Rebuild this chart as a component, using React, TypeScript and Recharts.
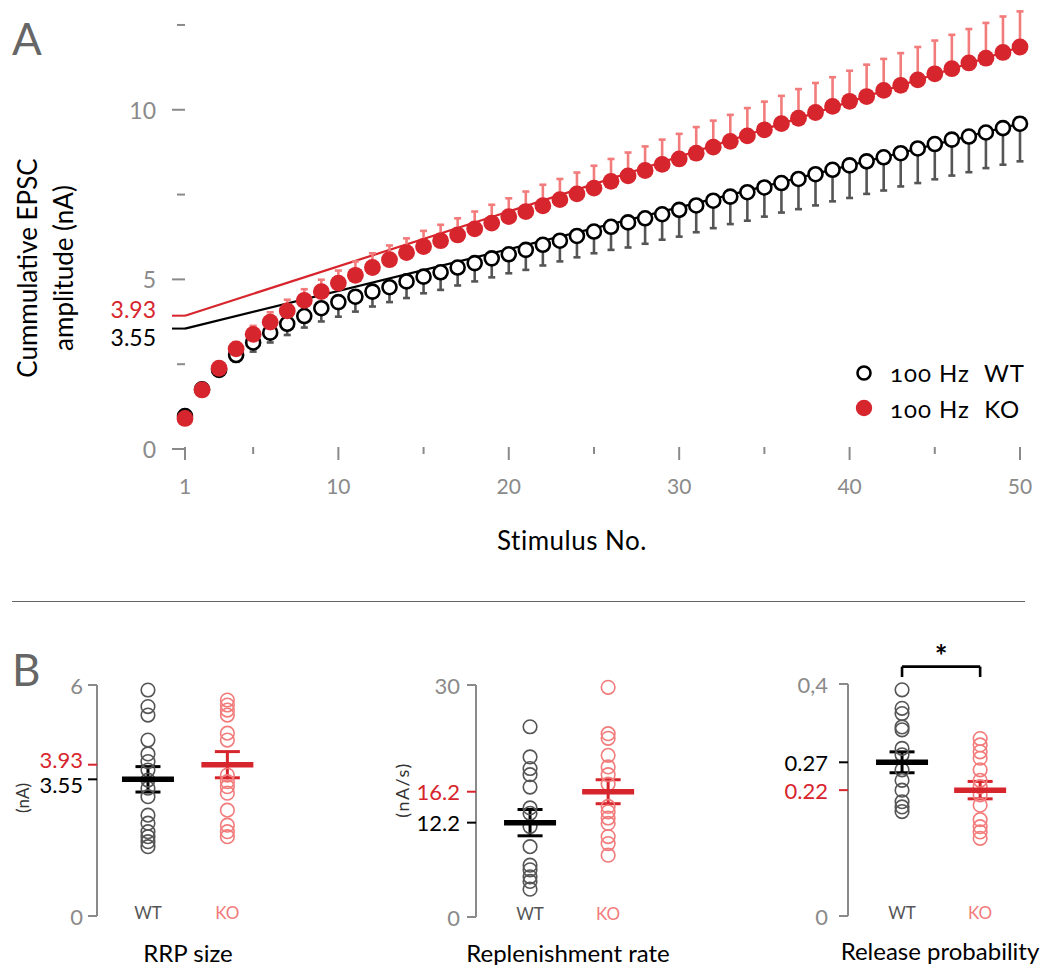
import React from 'react';
import { ComposedChart, Scatter, Line, XAxis, YAxis, ErrorBar, ReferenceLine, Legend } from 'recharts';

const FONT = 'Lato, "Open Sans", sans-serif';
const RED = '#d7252d';
const PINK = '#f27b7b';
const DGRAY = '#555555';
const AXIS_GRAY = '#8a8a8a';

// ---------- Panel A data ----------
const stimulus = [1, 2, 3, 4, 5, 6, 7, 8, 9, 10, 11, 12, 13, 14, 15, 16, 17, 18, 19, 20, 21, 22, 23, 24, 25,
  26, 27, 28, 29, 30, 31, 32, 33, 34, 35, 36, 37, 38, 39, 40, 41, 42, 43, 44, 45, 46, 47, 48, 49, 50];
const wtMean = [0.97, 1.76, 2.33, 2.77, 3.14, 3.43, 3.69, 3.92, 4.15, 4.33, 4.49, 4.64, 4.77, 4.94, 5.08, 5.21, 5.35,
  5.48, 5.62, 5.74, 5.87, 6.02, 6.14, 6.28, 6.41, 6.55, 6.68, 6.80, 6.92, 7.05, 7.18, 7.32, 7.44, 7.57, 7.71, 7.84,
  7.96, 8.10, 8.23, 8.36, 8.48, 8.60, 8.72, 8.86, 8.99, 9.12, 9.21, 9.33, 9.46, 9.59];
const wtSem = [0.05, 0.1, 0.15, 0.2, 0.27, 0.29, 0.33, 0.34, 0.39, 0.43, 0.44, 0.44, 0.44, 0.49, 0.49, 0.52, 0.53,
  0.54, 0.56, 0.56, 0.59, 0.61, 0.61, 0.63, 0.64, 0.68, 0.74, 0.75, 0.75, 0.79, 0.79, 0.81, 0.81, 0.84, 0.86, 0.87,
  0.89, 0.92, 0.93, 0.96, 0.96, 0.98, 0.98, 1.02, 1.04, 1.06, 1.05, 1.05, 1.08, 1.11];
const koMean = [0.90, 1.74, 2.38, 2.95, 3.38, 3.74, 4.07, 4.38, 4.64, 4.89, 5.12, 5.35, 5.58, 5.79, 5.97, 6.14, 6.31,
  6.49, 6.66, 6.85, 7.00, 7.17, 7.35, 7.52, 7.69, 7.89, 8.05, 8.21, 8.39, 8.55, 8.72, 8.90, 9.07, 9.23, 9.41, 9.59,
  9.75, 9.92, 10.10, 10.25, 10.39, 10.57, 10.72, 10.88, 11.06, 11.21, 11.38, 11.52, 11.69, 11.85];
const koSem = [0.05, 0.1, 0.15, 0.2, 0.25, 0.29, 0.33, 0.33, 0.35, 0.37, 0.41, 0.42, 0.42, 0.42, 0.46, 0.47, 0.49,
  0.51, 0.54, 0.54, 0.59, 0.62, 0.61, 0.63, 0.66, 0.66, 0.69, 0.71, 0.73, 0.74, 0.77, 0.78, 0.78, 0.82, 0.83, 0.82,
  0.86, 0.87, 0.86, 0.90, 0.94, 0.93, 0.95, 0.97, 0.98, 1.00, 1.00, 1.04, 1.06, 1.05];
const fitStimulus = [1, 50];
const wtFit = [3.55, 9.59];
const koFit = [3.93, 11.85];
const xTicksA = [1, 5, 10, 15, 20, 25, 30, 35, 40, 45, 50];
const xMajorA = [1, 10, 20, 30, 40, 50];
const yTicksA = [0, 2.5, 3.55, 3.93, 5, 7.5, 10, 12.5];
const yLabelsA: Record<string, string> = { '0': '0', '3.55': '3.55', '3.93': '3.93', '5': '5', '10': '10' };
const seriesNames = ['100 Hz  WT', '100 Hz  KO'];

// ---------- Panel B data ----------
const groups = ['WT', 'KO'];
const rrpWT = [5.87, 5.44, 5.22, 4.57, 4.21, 4.01, 3.79, 3.53, 3.32, 3.10, 2.62, 2.41, 2.19, 2.06, 1.93, 1.80];
const rrpKO = [5.61, 5.48, 5.35, 5.22, 4.75, 4.57, 3.66, 3.49, 3.36, 3.19, 2.75, 2.36, 2.19, 2.06];
const rrpMean = [3.55, 3.93];
const rrpSem = [0.33, 0.34];
const rrpMeanLabels = ['3.55', '3.93'];

const repWT = [24.6, 20.7, 19.2, 18.4, 16.8, 14.1, 13.4, 11.7, 9.1, 6.7, 6.1, 5.2, 4.6, 3.6];
const repKO = [29.7, 23.7, 23.1, 20.9, 19.4, 18.4, 17.2, 14.3, 13.6, 12.8, 12.1, 10.4, 9.5, 8.0];
const repMean = [12.2, 16.2];
const repSem = [1.7, 1.55];
const repMeanLabels = ['12.2', '16.2'];

const prWT = [0.390, 0.358, 0.349, 0.326, 0.321, 0.289, 0.278, 0.252, 0.234, 0.217, 0.197, 0.188, 0.180];
const prKO = [0.306, 0.295, 0.283, 0.272, 0.252, 0.234, 0.223, 0.209, 0.191, 0.166, 0.154, 0.145, 0.134];
const prMean = [0.265, 0.217];
const prSem = [0.018, 0.015];
const prMeanLabels = ['0.27', '0.22'];

// ---------- Panel A components ----------
const dataA = stimulus.map((s, i) => ({
  s,
  wt: wtMean[i],
  wtErr: [wtSem[i], 0],
  ko: koMean[i],
  koErr: [0, koSem[i]],
}));
const wtFitData = fitStimulus.map((s, i) => ({ s, fit: wtFit[i] }));
const koFitData = fitStimulus.map((s, i) => ({ s, fit: koFit[i] }));

const YTickA = (props: any) => {
  const { x, y, payload } = props;
  const v = payload.value;
  const label = yLabelsA[String(v)];
  const color = v === 3.93 ? RED : v === 3.55 ? '#000' : AXIS_GRAY;
  const len = label ? 13 : 8;
  const dy = v === 3.93 ? -7 : v === 3.55 ? 8 : 0;
  return (
    <g>
      <line x1={x - len} x2={x} y1={y} y2={y} stroke={color} strokeWidth={2} />
      {label && (
        <text x={x - 29} y={y + dy} textAnchor="end" dominantBaseline="central" fill={color}
          fontSize={23} fontFamily={FONT}>{label}</text>
      )}
    </g>
  );
};

const XTickA = (props: any) => {
  const { x, y, payload } = props;
  const v = payload.value;
  const major = xMajorA.includes(v);
  return (
    <g>
      <line x1={x} x2={x} y1={y - 2} y2={y + (major ? 11 : 5)} stroke={AXIS_GRAY} strokeWidth={2} />
      {major && (
        <text x={x} y={y + 36} textAnchor="middle" dominantBaseline="central" fill={AXIS_GRAY}
          fontSize={21} fontFamily={FONT}>{v}</text>
      )}
    </g>
  );
};

const WTDot = (props: any) => {
  const { cx, cy } = props;
  if (cx == null || cy == null) return null;
  return <circle cx={cx} cy={cy} r={7} fill="#fff" stroke="#000" strokeWidth={2.6} />;
};
const KODot = (props: any) => {
  const { cx, cy } = props;
  if (cx == null || cy == null) return null;
  return <circle cx={cx} cy={cy} r={8.4} fill={RED} />;
};

const LegendA = (props: any) => {
  const payload = (props.payload || [])
    .filter((e: any) => seriesNames.includes(e.value))
    .sort((a: any, b: any) => seriesNames.indexOf(a.value) - seriesNames.indexOf(b.value));
  return (
    <div style={{ fontFamily: FONT }}>
      {payload.map((entry: any, i: number) => (
        <div key={i} style={{ display: 'flex', alignItems: 'center', height: 35.5 }}>
          <svg width={24} height={20} style={{ marginRight: 14 }}>
            {entry.value === seriesNames[0]
              ? <circle cx={12} cy={10} r={6.5} fill="#fff" stroke="#000" strokeWidth={2.6} />
              : <circle cx={12} cy={10} r={8.2} fill={RED} />}
          </svg>
          <span style={{ fontSize: 24, color: '#000', whiteSpace: 'pre', letterSpacing: 1,
            fontVariantNumeric: 'oldstyle-nums', fontFeatureSettings: '"onum" 1' }}>{entry.value}</span>
        </div>
      ))}
    </div>
  );
};

function PanelA() {
  return (
    <ComposedChart width={1042} height={600} data={dataA} margin={{ top: 8, right: 22, bottom: 91, left: 0 }}
      style={{ fontFamily: FONT }}>
      <XAxis dataKey="s" type="number" domain={[1, 50]} ticks={xTicksA} interval={0} axisLine={false}
        tickLine={false} tickSize={0} tickMargin={0} height={60} tick={<XTickA />} />
      <YAxis type="number" domain={[0, 13]} ticks={yTicksA} interval={0} axisLine={false} tickLine={false}
        tickSize={0} tickMargin={0} width={185} tick={<YTickA />} />
      <Line data={wtFitData} dataKey="fit" stroke="#000" strokeWidth={2.2} dot={false} isAnimationActive={false}
        legendType="none" />
      <Line data={koFitData} dataKey="fit" stroke={RED} strokeWidth={2.2} dot={false} isAnimationActive={false}
        legendType="none" />
      <Scatter name={seriesNames[0]} dataKey="wt" fill="#fff" stroke="#000" shape={<WTDot />} isAnimationActive={false}>
        <ErrorBar dataKey="wtErr" direction="y" width={3.5} stroke={DGRAY} strokeWidth={2.6} />
      </Scatter>
      <Scatter name={seriesNames[1]} dataKey="ko" fill={RED} shape={<KODot />} isAnimationActive={false}>
        <ErrorBar dataKey="koErr" direction="y" width={3.5} stroke={PINK} strokeWidth={2.6} />
      </Scatter>
      <Legend content={<LegendA />} layout="vertical" align="center" verticalAlign="middle"
        wrapperStyle={{ position: 'absolute', left: 852, top: 355, width: 190 }} />
    </ComposedChart>
  );
}

// ---------- Panel B components ----------
const PointDot = (color: string) => (props: any) => {
  const { cx, cy } = props;
  if (cx == null || cy == null) return null;
  return <circle cx={cx} cy={cy} r={6.8} fill="none" stroke={color} strokeWidth={1.6} />;
};
const MeanBar = (color: string) => (props: any) => {
  const { cx, cy } = props;
  if (cx == null || cy == null) return null;
  return <line x1={cx - 26} x2={cx + 26} y1={cy} y2={cy} stroke={color} strokeWidth={5.5} />;
};

const CatTick = (props: any) => {
  const { x, y, payload } = props;
  const idx = payload.value - 1;
  return (
    <text x={x} y={y - 4} textAnchor="middle" dominantBaseline="central" fontSize={17} fontFamily={FONT}
      fill={idx === 0 ? DGRAY : PINK}>{groups[idx]}</text>
  );
};

type StripProps = {
  left: number; plotTop: number; plotBottom: number; yAxisWidth: number; plotWidth: number; xMin: number;
  yMax: number; yMaxLabel: string; wt: number[]; ko: number[]; mean: number[]; sem: number[];
  meanLabels: string[]; gap: number; capHalf: number; labelShift: number; bracket?: boolean;
};

const TOP_MARGIN_B = 70;
const X_AXIS_H = 20;
const BOTTOM_MARGIN_B = 4;

function StripChart(p: StripProps) {
  const ptsWT = p.wt.map((v) => ({ x: 1, y: v }));
  const ptsKO = p.ko.map((v) => ({ x: 2, y: v }));
  const meanWT = [{ x: 1, y: p.mean[0], e: p.sem[0] }];
  const meanKO = [{ x: 2, y: p.mean[1], e: p.sem[1] }];
  const yTicks = [0, p.mean[0], p.mean[1], p.yMax];
  const YTick = (props: any) => {
    const { x, y, payload } = props;
    const v = payload.value;
    let label = '0';
    let color = AXIS_GRAY;
    let dy = 0;
    if (v === p.yMax) label = p.yMaxLabel;
    else if (v === p.mean[0]) { label = p.meanLabels[0]; color = '#000'; dy = p.labelShift; }
    else if (v === p.mean[1]) { label = p.meanLabels[1]; color = RED; dy = -p.labelShift; }
    return (
      <g>
        <line x1={x - 9} x2={x} y1={y} y2={y} stroke={color} strokeWidth={2} />
        <text x={x - 9 - p.gap} y={y + dy} textAnchor="end" dominantBaseline="central" fill={color}
          fontSize={22} fontFamily={FONT}>{label}</text>
      </g>
    );
  };
  const height = TOP_MARGIN_B + (p.plotBottom - p.plotTop) + X_AXIS_H + BOTTOM_MARGIN_B;
  return (
    <div style={{ position: 'absolute', left: p.left, top: p.plotTop - TOP_MARGIN_B }}>
      <ComposedChart width={p.yAxisWidth + p.plotWidth} height={height}
        margin={{ top: TOP_MARGIN_B, right: 0, bottom: BOTTOM_MARGIN_B, left: 0 }}>
        <XAxis dataKey="x" type="number" domain={[p.xMin, 2.6]} ticks={[1, 2]} interval={0} axisLine={false}
          tickLine={false} tickSize={0} tickMargin={0} height={X_AXIS_H} tick={<CatTick />} />
        <YAxis type="number" domain={[0, p.yMax]} ticks={yTicks} interval={0}
          axisLine={{ stroke: AXIS_GRAY, strokeWidth: 2 }} tickLine={false} tickSize={0} tickMargin={0}
          width={p.yAxisWidth} tick={<YTick />} />
        <Scatter data={ptsWT} dataKey="y" shape={PointDot(DGRAY)} isAnimationActive={false} />
        <Scatter data={ptsKO} dataKey="y" shape={PointDot(PINK)} isAnimationActive={false} />
        <Scatter data={meanWT} dataKey="y" shape={MeanBar('#000')} isAnimationActive={false}>
          <ErrorBar dataKey="e" direction="y" width={p.capHalf} stroke="#000" strokeWidth={3} />
        </Scatter>
        <Scatter data={meanKO} dataKey="y" shape={MeanBar(RED)} isAnimationActive={false}>
          <ErrorBar dataKey="e" direction="y" width={p.capHalf} stroke={RED} strokeWidth={3} />
        </Scatter>
        {p.bracket && (
          <ReferenceLine segment={[{ x: 1, y: 0.412 }, { x: 1, y: 0.43 }]} stroke="#000" strokeWidth={2.6}
            ifOverflow="visible" />
        )}
        {p.bracket && (
          <ReferenceLine segment={[{ x: 1, y: 0.43 }, { x: 2, y: 0.43 }]} stroke="#000" strokeWidth={2.6}
            ifOverflow="visible"
            label={{ value: '*', position: 'top', fill: '#000', fontSize: 30, fontWeight: 700, offset: 0 }} />
        )}
        {p.bracket && (
          <ReferenceLine segment={[{ x: 2, y: 0.43 }, { x: 2, y: 0.412 }]} stroke="#000" strokeWidth={2.6}
            ifOverflow="visible" />
        )}
      </ComposedChart>
    </div>
  );
}

const abs = (extra: React.CSSProperties): React.CSSProperties => ({
  position: 'absolute', fontFamily: FONT, whiteSpace: 'nowrap', ...extra,
});

export default function App() {
  return (
    <div style={{ position: 'absolute', left: 0, top: 0, width: 1042, height: 965, background: '#fff',
      fontFamily: FONT, overflow: 'hidden' }}>
      <div style={{ position: 'absolute', left: 0, top: 0 }}>
        <PanelA />
      </div>
      <div style={abs({ left: 12, top: 16, fontSize: 44, color: '#666', lineHeight: '44px' })}>A</div>
      <div style={abs({ left: 27, top: 268, fontSize: 26, color: '#000', transform: 'translate(-50%, -50%) rotate(-90deg)', lineHeight: '30px' })}>Cummulative EPSC</div>
      <div style={abs({ left: 63, top: 268, fontSize: 26, color: '#000', transform: 'translate(-50%, -50%) rotate(-90deg)', lineHeight: '30px' })}>amplitude (nA)</div>
      <div style={abs({ left: 572, top: 540, fontSize: 26, color: '#000', transform: 'translate(-50%, -50%)', lineHeight: '30px', letterSpacing: 0.5 })}>Stimulus No.</div>

      <div style={{ position: 'absolute', left: 12, top: 601, width: 1013, height: 1, background: '#666' }} />

      <div style={abs({ left: 12, top: 647, fontSize: 44, color: '#666', lineHeight: '44px' })}>B</div>

      <StripChart left={0} plotTop={685} plotBottom={916} yAxisWidth={97} plotWidth={178} xMin={0.358} yMax={6}
        yMaxLabel="6" wt={rrpWT} ko={rrpKO} mean={rrpMean} sem={rrpSem} meanLabels={rrpMeanLabels}
        gap={5} capHalf={12.5} labelShift={5} />
      <StripChart left={300} plotTop={685} plotBottom={917} yAxisWidth={176} plotWidth={179} xMin={0.308} yMax={30}
        yMaxLabel="30" wt={repWT} ko={repKO} mean={repMean} sem={repSem} meanLabels={repMeanLabels}
        gap={7} capHalf={12.5} labelShift={0} />
      <StripChart left={700} plotTop={684} plotBottom={916} yAxisWidth={148} plotWidth={179} xMin={0.308} yMax={0.4}
        yMaxLabel="0,4" wt={prWT} ko={prKO} mean={prMean} sem={prSem} meanLabels={prMeanLabels}
        gap={11} capHalf={12.5} labelShift={0} bracket />

      <div style={abs({ left: 22, top: 798, fontSize: 17, color: '#333', transform: 'translate(-50%, -50%) rotate(-90deg)' })}>(nA)</div>
      <div style={abs({ left: 402, top: 790, fontSize: 18, color: '#333', letterSpacing: 1.5, transform: 'translate(-50%, -50%) rotate(-90deg)' })}>(nA/s)</div>

      <div style={abs({ left: 188, top: 952, fontSize: 24, color: '#000', transform: 'translate(-50%, -50%)' })}>RRP size</div>
      <div style={abs({ left: 568, top: 952, fontSize: 24, color: '#000', transform: 'translate(-50%, -50%)' })}>Replenishment rate</div>
      <div style={abs({ left: 940, top: 950, fontSize: 24, color: '#000', transform: 'translate(-50%, -50%)' })}>Release probability</div>
    </div>
  );
}
